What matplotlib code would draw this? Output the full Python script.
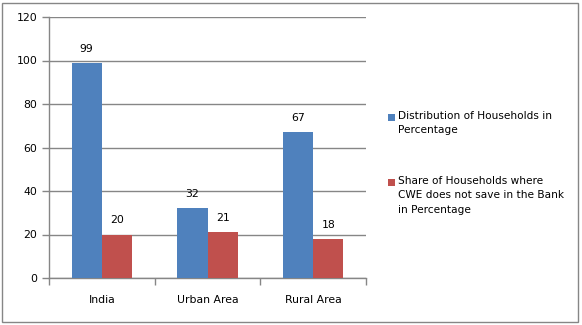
import matplotlib
matplotlib.use("Agg")
import matplotlib.pyplot as plt
from matplotlib.patches import Rectangle

categories = ["India", "Urban Area", "Rural Area"]
distribution = [99, 32, 67]
share_no_bank = [20, 21, 18]
series_names = ["Distribution of Households in\nPercentage",
                "Share of Households where\nCWE does not save in the Bank\nin Percentage"]
y_ticks = [0, 20, 40, 60, 80, 100, 120]

BLUE = "#4F81BD"
RED = "#C0504D"
GRID = "#868686"
FS = 7.8
LEG_FS = 7.6

W, H = 582, 325
fig = plt.figure(figsize=(W / 100, H / 100), dpi=100)

# chart border
fig.patches.append(Rectangle((2 / W, 3 / H), 576 / W, 319 / H, transform=fig.transFigure,
                             fill=False, edgecolor=GRID, linewidth=1.0))

ax = fig.add_axes([49 / W, (H - 278) / H, (366 - 49) / W, (278 - 17) / H])

bw = 0.287
x = list(range(len(categories)))
b1 = ax.bar([i - bw / 2 for i in x], distribution, width=bw, color=BLUE, zorder=3)
b2 = ax.bar([i + bw / 2 for i in x], share_no_bank, width=bw, color=RED, zorder=3)

for bars, vals in ((b1, distribution), (b2, share_no_bank)):
    for rect, v in zip(bars, vals):
        ax.annotate(f"{v}", (rect.get_x() + rect.get_width() / 2, v),
                    xytext=(0, 6.5), textcoords="offset points",
                    ha="center", va="bottom", fontsize=FS, color="black")

ax.set_xlim(-0.5, 2.5)
ax.set_ylim(0, 120)
ax.set_yticks(y_ticks)
ax.set_yticklabels([str(t) for t in y_ticks], fontsize=FS)
ax.yaxis.grid(True, color=GRID, linewidth=1.0, zorder=0)
ax.set_axisbelow(True)

# category boundary ticks on x axis, labels centered below each group
ax.set_xticks([-0.5, 0.5, 1.5, 2.5])
ax.set_xticklabels([])
ax.tick_params(axis="x", direction="out", length=5, color=GRID, width=1)
ax.tick_params(axis="y", direction="out", length=5, color=GRID, width=1, pad=3.5)
for i, c in enumerate(categories):
    ax.text(i, -0.085, c, transform=ax.get_xaxis_transform(), ha="center", va="center", fontsize=FS)

for s in ("top", "right"):
    ax.spines[s].set_visible(False)
for s in ("left", "bottom"):
    ax.spines[s].set_color(GRID)
    ax.spines[s].set_linewidth(1.0)

# legend
legend_items = [(BLUE, series_names[0], 117), (RED, series_names[1], 182)]
for color, label, ypix in legend_items:
    fig.patches.append(Rectangle((388 / W, (H - ypix - 3.5) / H), 7 / W, 7 / H,
                                 transform=fig.transFigure, facecolor=color, edgecolor="none"))
    fig.text(398 / W, (H - ypix + 6) / H, label, fontsize=LEG_FS, ha="left", va="top",
             linespacing=1.55)

fig.savefig("out.png", dpi=100)
